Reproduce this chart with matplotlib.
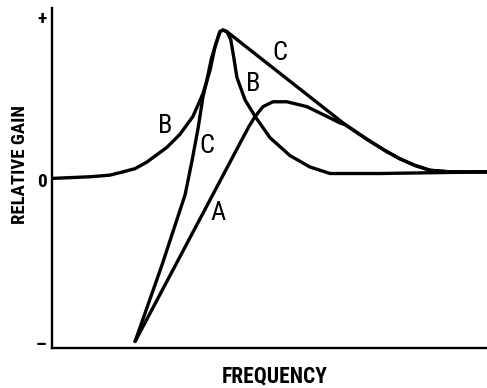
import matplotlib.pyplot as plt

# relative gain vs frequency
# gain: 0 = baseline, +1 = "+" mark, -1 = "-" mark ; frequency 0..10 across the axis
freq_b = [0, 0.87, 1.33, 1.63, 1.91, 2.18, 2.64, 2.94, 3.24, 3.47, 3.63, 3.75, 3.86, 3.93, 4.02,
          4.11, 4.18, 4.25, 4.44, 4.67, 5.01, 5.47, 5.93, 6.39, 7.54, 10]
gain_b = [0.01, 0.02, 0.03, 0.05, 0.07, 0.11, 0.20, 0.28, 0.39, 0.53, 0.67, 0.82, 0.91, 0.92, 0.91,
          0.86, 0.75, 0.63, 0.49, 0.39, 0.26, 0.15, 0.08, 0.04, 0.04, 0.05]

freq_c = [1.91, 2.53, 3.06, 3.22, 3.36, 3.47, 3.56, 3.66, 3.75, 3.86, 3.93, 4.02,
          6.74, 7.24, 7.66, 8.00, 8.34, 8.69, 9.15, 10]
gain_c = [-0.99, -0.52, -0.09, 0.12, 0.32, 0.51, 0.61, 0.74, 0.82, 0.91, 0.92, 0.91,
          0.34, 0.25, 0.18, 0.13, 0.09, 0.06, 0.05, 0.05]

freq_a = [1.91, 4.39, 4.53, 4.67, 4.85, 5.08, 5.40, 5.86, 6.32, 6.62, 6.74,
          7.24, 7.66, 8.00, 8.34, 8.69, 9.15, 10]
gain_a = [-0.99, 0.26, 0.33, 0.39, 0.45, 0.48, 0.48, 0.45, 0.39, 0.35, 0.34,
          0.25, 0.18, 0.13, 0.09, 0.06, 0.05, 0.05]

labels = [("B", 2.60, 0.33), ("C", 3.56, 0.21), ("B", 4.62, 0.59),
          ("C", 5.25, 0.78), ("A", 3.82, -0.20)]

font = ['Liberation Sans Narrow', 'Roboto Condensed', 'DejaVu Sans']

fig = plt.figure(figsize=(4.87, 3.88), dpi=100)
ax = fig.add_axes([52 / 487, 40 / 388, 435 / 487, 340 / 388])

for f, g in [(freq_b, gain_b), (freq_c, gain_c), (freq_a, gain_a)]:
    ax.plot(f, g, color='black', lw=2.4, solid_capstyle='round', solid_joinstyle='round')

for txt, x, y in labels:
    ax.text(x, y, txt, fontsize=19, family=font, stretch='condensed',
            ha='center', va='center')

ax.set_xlim(0, 10)
ax.set_ylim(-1.03, 1.055)
ax.spines['top'].set_visible(False)
ax.spines['right'].set_visible(False)
ax.spines['left'].set_linewidth(1.7)
ax.spines['bottom'].set_linewidth(1.7)
ax.set_xticks([])
ax.set_yticks([-1, 0, 1])
ax.set_yticklabels(['–', '0', '+'], family=font, fontsize=14, fontweight='bold')
ax.tick_params(axis='y', length=0, pad=4)

fig.text(275 / 487, 0.031, 'FREQUENCY', family=font, stretch='condensed',
         fontsize=15.5, fontweight='bold', ha='center', va='center')
fig.text(20 / 487, 0.577, 'RELATIVE GAIN', family=font, stretch='condensed',
         fontsize=13.5, fontweight='bold', rotation=90, ha='center', va='center')

fig.savefig('out.png', dpi=100)
